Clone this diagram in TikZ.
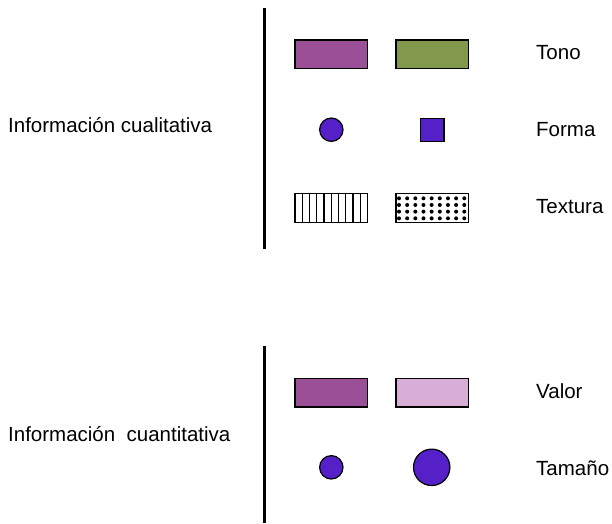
\documentclass[tikz,border=0pt]{standalone}
\usepackage{fontspec}
\setmainfont{Liberation Sans}
\definecolor{tonepurple}{RGB}{155,79,150}
\definecolor{tonegreen}{RGB}{130,153,76}
\definecolor{tonepink}{RGB}{216,173,214}
\definecolor{shapeblue}{RGB}{85,32,200}
\tikzset{
  lbl/.style={anchor=base west, inner sep=0pt, font=\fontsize{20.5}{24}\selectfont},
  swatch/.style={draw=black, line width=1.2pt},
  divider/.style={line width=2.6pt, black},
}
\begin{document}
\begin{tikzpicture}[x=1pt,y=-1pt]
\useasboundingbox (0,0) rectangle (612,523);
% dividers
\coordinate (d1t) at (264.5,7.5);
\coordinate (d1b) at (264.5,249);
\coordinate (d2t) at (264.5,346);
\coordinate (d2b) at (264.5,523);
\draw[divider] (d1t) -- (d1b);
\draw[divider] (d2t) -- (d2b);
% left labels
\node[lbl] (cual) at (8,132) {Información cualitativa};
\node[lbl] (cuan) at (8,441) {Información\ \ cuantitativa};
% right labels
\node[lbl] (tono) at (536,59) {Tono};
\node[lbl] (forma) at (536,136) {Forma};
\node[lbl] (textura) at (536,213) {Textura};
\node[lbl] (valor) at (536,398.3) {Valor};
\node[lbl] (tamano) at (536,475) {Tamaño};
% Tono
\draw[swatch, fill=tonepurple] (295,40) rectangle (367.5,68.7);
\draw[swatch, fill=tonegreen] (396,40) rectangle (468.3,68.7);
% Forma
\draw[swatch, fill=shapeblue] (331.3,129.7) circle (11.7);
\draw[swatch, fill=shapeblue] (420.3,118.3) rectangle (444,141.7);
% Textura stripes
\draw[swatch, fill=white] (295,193.3) rectangle (367.5,222.7);
\foreach \k in {1,...,9} {
  \draw[line width=1.2pt] ({295+\k*7.25},193.3) -- ({295+\k*7.25},222.7);
}
% Textura dots
\draw[swatch, fill=white] (396,193.3) rectangle (468.3,222.7);
\foreach \i in {0,...,8} {
  \foreach \j in {0,...,3} {
    \fill[black] ({399+\i*8.16},{198.3+\j*6.67}) circle (2);
  }
}
% Valor
\draw[swatch, fill=tonepurple] (295,378.3) rectangle (367.5,407);
\draw[swatch, fill=tonepink] (396,378.3) rectangle (468.3,407);
% Tamano
\draw[swatch, fill=shapeblue] (331.3,467.3) circle (11.7);
\draw[swatch, fill=shapeblue] (431.7,467.3) circle (18.2);
\end{tikzpicture}
\end{document}
